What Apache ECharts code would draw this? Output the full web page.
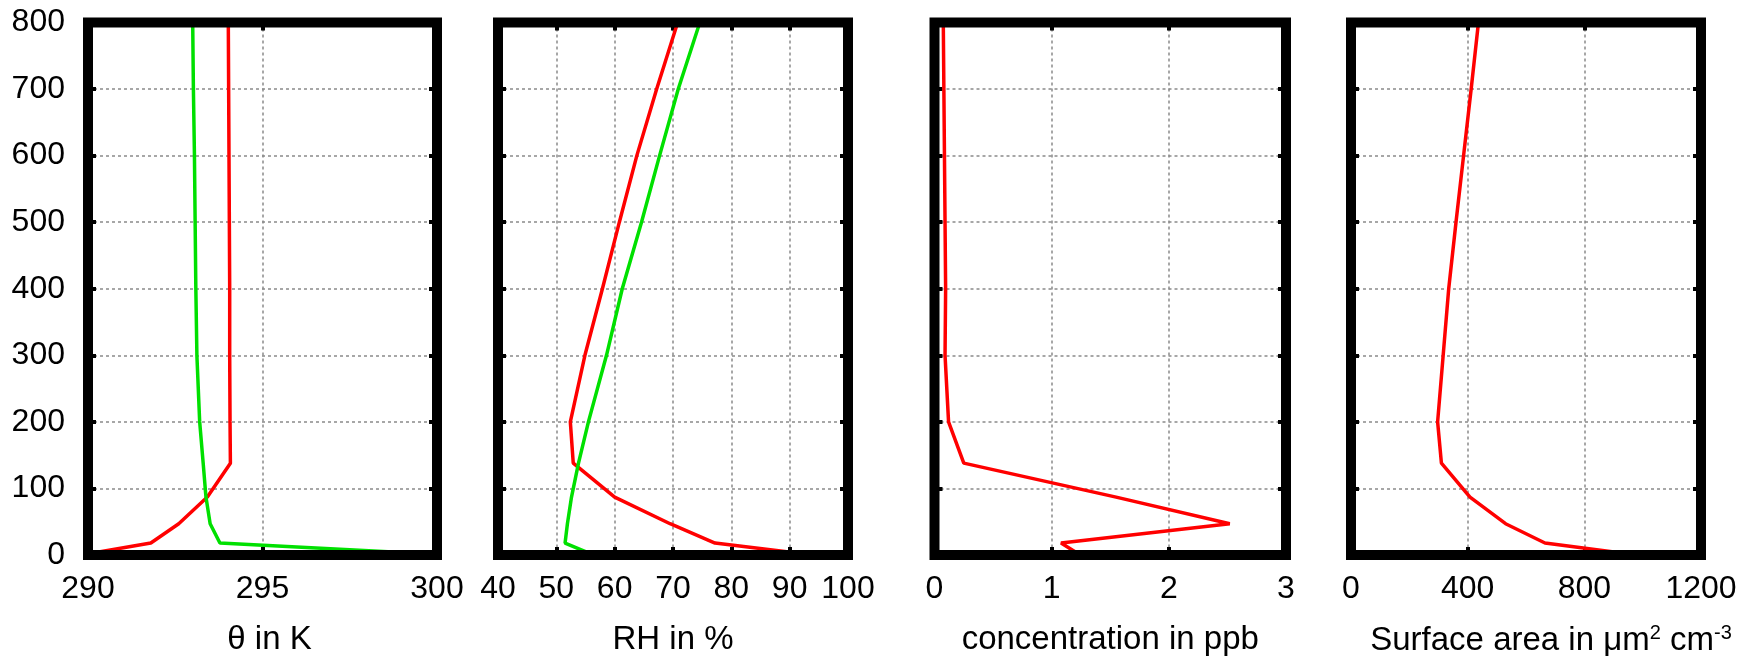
<!DOCTYPE html>
<html>
<head>
<meta charset="utf-8">
<script src="https://cdn.jsdelivr.net/npm/echarts@6/dist/echarts.min.js"></script>
<style>
html,body{margin:0;padding:0;background:#fff;}
#chart{width:1747px;height:659px;}
</style>
</head>
<body>
<div id="chart"></div>
<script>
// Heights (m) of the profile levels
const heights = [5, 18, 47, 87, 138, 200, 300, 400, 500, 600, 700, 800];
// Panel 1: potential temperature (K)
const thetaRed   = [290.35, 291.8, 292.6, 293.42, 294.08, 294.07, 294.06, 294.06, 294.05, 294.04, 294.03, 294.02];
const thetaGreen = [298.6, 293.78, 293.5, 293.38, 293.3, 293.2, 293.12, 293.09, 293.07, 293.05, 293.02, 293.0];
// Panel 2: relative humidity (%)
const rhRed   = [89.5, 77.2, 69.5, 60.0, 52.9, 52.4, 54.9, 57.9, 60.8, 63.8, 67.2, 70.8];
const rhGreen = [55.0, 51.5, 51.9, 52.6, 53.8, 55.5, 58.6, 61.3, 64.6, 67.7, 70.9, 74.6];
// Panel 3: concentration (ppb)
const concRed = [1.2, 1.08, 2.52, 1.55, 0.25, 0.12, 0.09, 0.095, 0.09, 0.085, 0.08, 0.075];
// Panel 4: surface area (um2 cm-3)
const surfRed = [895, 665, 530, 408, 310, 297, 316, 335, 360, 386, 412, 437];

// Axis ranges / tick settings
const yRange = [0, 800, 100];
const xRanges = [[290, 300, 5], [40, 100, 10], [0, 3, 1], [0, 1200, 400]];
const xNames = ['θ in K', 'RH in %', 'concentration in ppb', 'Surface area in μm{sup|2} cm{sup|-3}'];
const panelSeries = [
  [['#ff0000', thetaRed], ['#00e000', thetaGreen]],
  [['#ff0000', rhRed], ['#00e000', rhGreen]],
  [['#ff0000', concRed]],
  [['#ff0000', surfRed]]
];

const FONT = "'Liberation Sans', Arial, Helvetica, sans-serif";
const gridPos = [
  {left: 88, width: 349},
  {left: 498, width: 350},
  {left: 934.5, width: 351.5},
  {left: 1351, width: 350}
];
const namePad = [[0,0,0,14],[0,0,0,0],[0,0,0,0],[0,0,0,50]];

const grids = [], xAxes = [], yAxes = [], series = [];
const splitStyle = {show: true, lineStyle: {color: '#8a8a8a', width: 1.5, type: [3, 3]}};
const tickStyle = {show: true, inside: true, length: 8, lineStyle: {color: '#000', width: 4}};
const noLine = {show: false, onZero: false};
const fmt = v => String(v);

gridPos.forEach((g, i) => {
  grids.push({left: g.left, width: g.width, top: 22.5, height: 532.5, show: true,
    outerBoundsMode: 'none', containLabel: false,
    borderColor: '#000', borderWidth: 10, backgroundColor: 'transparent', z: 10});
  const [xmin, xmax, xint] = xRanges[i];
  xAxes.push({type: 'value', gridIndex: i, position: 'bottom', min: xmin, max: xmax, interval: xint,
    axisLine: noLine, axisTick: tickStyle, splitLine: splitStyle,
    axisLabel: {show: true, margin: 18.5, fontSize: 32, color: '#000', fontFamily: FONT, formatter: fmt},
    name: xNames[i], nameLocation: 'middle', nameGap: 68,
    nameTextStyle: {fontSize: 33, color: '#000', fontFamily: FONT, padding: namePad[i],
      rich: {sup: {fontSize: 20, color: '#000', fontFamily: FONT, verticalAlign: 'top', padding: [0,0,16,0]}}}
  });
  xAxes.push({type: 'value', gridIndex: i, position: 'top', min: xmin, max: xmax, interval: xint,
    axisLine: noLine, axisTick: tickStyle, splitLine: {show: false}, axisLabel: {show: false}});
  yAxes.push({type: 'value', gridIndex: i, position: 'left', min: yRange[0], max: yRange[1], interval: yRange[2],
    axisLine: noLine, axisTick: tickStyle, splitLine: splitStyle,
    axisLabel: {show: i === 0, margin: 23, fontSize: 32, color: '#000', fontFamily: FONT, formatter: fmt}});
  yAxes.push({type: 'value', gridIndex: i, position: 'right', min: yRange[0], max: yRange[1], interval: yRange[2],
    axisLine: noLine, axisTick: tickStyle, splitLine: {show: false}, axisLabel: {show: false}});
  panelSeries[i].forEach(([color, vals]) => {
    series.push({type: 'line', xAxisIndex: 2 * i, yAxisIndex: 2 * i, symbol: 'none',
      lineStyle: {color: color, width: 3.5}, itemStyle: {color: color},
      data: vals.map((v, k) => [v, heights[k]]), z: 2});
  });
});

const chart = echarts.init(document.getElementById('chart'), null, {renderer: 'canvas'});
chart.setOption({
  animation: false,
  backgroundColor: '#fff',
  textStyle: {fontFamily: FONT},
  grid: grids, xAxis: xAxes, yAxis: yAxes, series: series
});
</script>
</body>
</html>
